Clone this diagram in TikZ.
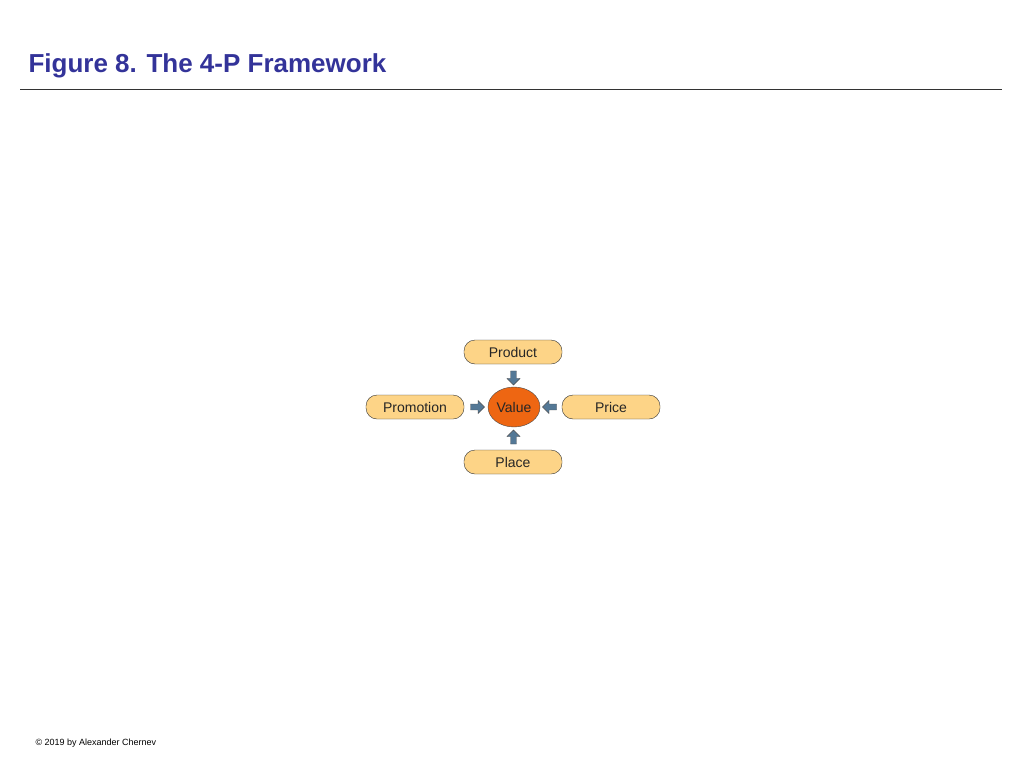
\documentclass[tikz,border=0pt]{standalone}
\usepackage{fontspec}
\setmainfont{Liberation Sans}
\usetikzlibrary{shapes.arrows,shapes.geometric,calc}
\definecolor{boxfill}{RGB}{253,212,135}
\definecolor{valfill}{RGB}{238,102,18}
\definecolor{arrfill}{RGB}{84,120,150}
\definecolor{titleblue}{RGB}{51,51,153}
\tikzset{
  pbox/.style={draw=black!80, fill=boxfill, rounded corners=11pt, minimum width=98pt, minimum height=24pt, inner sep=0pt, font=\fontsize{14}{16}\selectfont, text=black!85},
  valnode/.style={draw=black!70, fill=valfill, ellipse, minimum width=52pt, minimum height=40pt, inner sep=0pt, font=\fontsize{14}{16}\selectfont, text=black!85},
  barrow/.style={single arrow, draw=black!70, fill=arrfill, minimum height=14pt, minimum width=13pt, single arrow head extend=2pt, inner sep=1.5pt}
}
\begin{document}
\begin{tikzpicture}[x=1pt,y=-1pt]
\useasboundingbox (0,0) rectangle (1024,768);
\node[anchor=base west, text=titleblue, font=\fontsize{26}{30}\selectfont\bfseries] (title) at (25,72) {Figure 8. The 4-P Framework};
\coordinate (l1) at (20,89); \coordinate (l2) at (1002,89);
\draw[black!80] (l1) -- (l2);
\node[pbox] (prod) at (513,352) {Product};
\node[pbox] (promo) at (415,407) {Promotion};
\node[pbox] (price) at (611,407) {Price};
\node[pbox] (place) at (513,462) {Place};
\node[valnode] (val) at (514,407) {Value};
\node[barrow, rotate=-90] (a1) at ($(prod.south)!0.5!(val.north)+(0,1)$) {};
\node[barrow] (a2) at ($(promo.east)!0.5!(val.west)$) {};
\node[barrow, rotate=180] (a3) at ($(price.west)!0.5!(val.east)$) {};
\node[barrow, rotate=90] (a4) at ($(place.north)!0.5!(val.south)$) {};
\node[anchor=base west, font=\fontsize{9}{11}\selectfont] (foot) at (32,745) {© 2019 by Alexander Chernev};
\end{tikzpicture}
\end{document}
